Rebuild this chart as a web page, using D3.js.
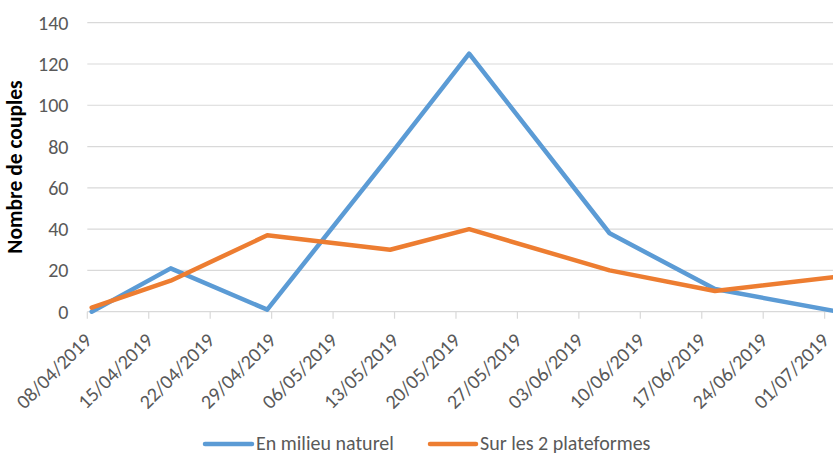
<!DOCTYPE html>
<html>
<head>
<meta charset="utf-8">
<script src="https://cdn.jsdelivr.net/npm/d3@7/dist/d3.min.js"></script>
<style>
  html, body { margin: 0; padding: 0; background: #fff; }
  svg { display: block; font-family: Carlito, Calibri, Lato, sans-serif; }
</style>
</head>
<body>
<svg id="chart" width="833" height="455"></svg>
<script>
// Survey dates (one per observation)
const dates = ["08/04/2019", "17/04/2019", "28/04/2019", "12/05/2019", "21/05/2019", "06/06/2019", "18/06/2019", "02/07/2019"];
// Number of couples counted in the wild
const milieuNaturel = [0, 21, 1, 76, 125, 38, 11, 0];
// Number of couples counted on the two platforms
const plateformes = [2, 15, 37, 30, 40, 20, 10, 17];
// Weekly axis labels
const tickLabels = ["08/04/2019", "15/04/2019", "22/04/2019", "29/04/2019", "06/05/2019", "13/05/2019", "20/05/2019", "27/05/2019", "03/06/2019", "10/06/2019", "17/06/2019", "24/06/2019", "01/07/2019"];
const yTicks = [0, 20, 40, 60, 80, 100, 120, 140];

const seriesNames = ["En milieu naturel", "Sur les 2 plateformes"];
const colors = ["#5B9BD5", "#ED7D31"];

const parse = d3.utcParse("%d/%m/%Y");
const svg = d3.select("#chart");

const plotLeft = 87.3, plotTop = 22.7, plotBottom = 311.7, plotRight = 833;
const labelSize = 20;
const firstDay = parse(tickLabels[0]);
const lastDay = d3.utcDay.offset(parse(dates[dates.length - 1]), 1);

// Date axis: each day is a slot, points sit in the middle of their day
const x = d3.scaleUtc().domain([firstDay, lastDay]).range([plotLeft, plotLeft + 86 * 8.778]);
const y = d3.scaleLinear().domain([0, 140]).range([plotBottom, plotTop]);

// Horizontal gridlines
svg.append("g")
  .selectAll("line")
  .data(yTicks)
  .join("line")
  .attr("x1", plotLeft).attr("x2", plotRight)
  .attr("y1", d => y(d)).attr("y2", d => y(d))
  .attr("stroke", "#D9D9D9").attr("stroke-width", 1.2);

// Y tick labels
svg.append("g")
  .selectAll("text")
  .data(yTicks)
  .join("text")
  .attr("x", 68.5)
  .attr("y", d => y(d))
  .attr("dy", "0.35em")
  .attr("text-anchor", "end")
  .attr("fill", "#595959")
  .attr("font-size", labelSize)
  .text(d => d);

// X axis tick marks and rotated labels
const tickDates = tickLabels.map(parse);
const xTicks = svg.append("g");
xTicks.selectAll("line")
  .data(tickDates)
  .join("line")
  .attr("x1", d => x(d)).attr("x2", d => x(d))
  .attr("y1", plotBottom).attr("y2", plotBottom + 7)
  .attr("stroke", "#D9D9D9").attr("stroke-width", 1.2);
xTicks.selectAll("text")
  .data(tickLabels)
  .join("text")
  .attr("transform", d => `translate(${x(parse(d)) + 5.5},${plotBottom + 30}) rotate(-45)`)
  .attr("text-anchor", "end")
  .attr("fill", "#595959")
  .attr("font-size", labelSize)
  .text(d => d);

// Y axis title
svg.append("text")
  .attr("transform", `translate(21.5,${(77 + 257) / 2}) rotate(-90)`)
  .attr("text-anchor", "middle")
  .attr("font-size", 21.5)
  .attr("font-weight", "bold")
  .attr("fill", "#000")
  .text("Nombre de couples");

// Lines
const mid = d => d3.utcHour.offset(parse(d), 12);
const line = d3.line()
  .x(d => x(mid(d.date)))
  .y(d => y(d.value));

[milieuNaturel, plateformes].forEach((vals, i) => {
  const pts = dates.map((d, j) => ({ date: d, value: vals[j] }));
  svg.append("path")
    .datum(pts)
    .attr("d", line)
    .attr("fill", "none")
    .attr("stroke", colors[i])
    .attr("stroke-width", 4.5)
    .attr("stroke-linejoin", "round")
    .attr("stroke-linecap", "round");
});

// Legend
const legendItems = [
  { x1: 205, x2: 252, tx: 256 },
  { x1: 430, x2: 476, tx: 480 }
];
const legend = svg.append("g");
legendItems.forEach((it, i) => {
  legend.append("line")
    .attr("x1", it.x1).attr("x2", it.x2)
    .attr("y1", 444).attr("y2", 444)
    .attr("stroke", colors[i]).attr("stroke-width", 4.5)
    .attr("stroke-linecap", "round");
  legend.append("text")
    .attr("x", it.tx).attr("y", 443)
    .attr("dy", "0.35em")
    .attr("fill", "#595959")
    .attr("font-size", labelSize)
    .text(seriesNames[i]);
});
</script>
</body>
</html>
